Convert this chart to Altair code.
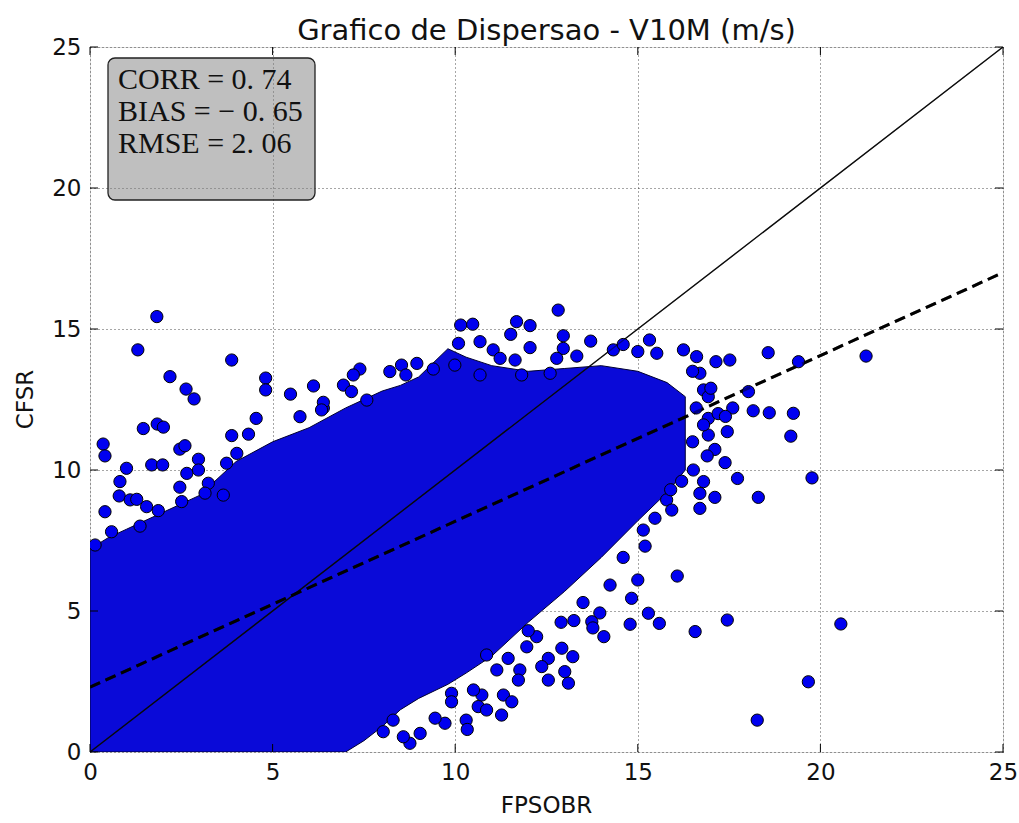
import altair as alt
import pandas as pd

# ---- data ----
# dense core of the scatter cloud (envelope read per x column)
core_x = [0, 0.5, 1, 2, 3, 4, 5, 6, 7, 7.5, 8, 8.5, 9, 9.8, 10.3, 11, 12, 13, 14, 15, 15.8, 16.3]
core_hi = [7.2, 7.6, 7.9, 8.5, 9.1, 10.3, 11.0, 11.5, 12.2, 12.5, 12.8, 13.0, 13.3, 14.3, 14.0, 13.7, 13.5, 13.6, 13.7, 13.5, 13.1, 12.6]
core_lo = [0, 0, 0, 0, 0, 0, 0, 0, 0, 0.4, 0.9, 1.5, 1.9, 2.4, 2.8, 3.4, 4.6, 5.7, 6.9, 8.2, 9.2, 10.0]

# individual points around the cloud
pts_x = [1.83, 1.31, 3.88, 2.19, 2.63, 2.85, 4.81, 4.81, 5.49, 6.12, 6.39, 5.75, 1.46, 1.84, 2.01, 0.36, 0.41, 2.46, 2.6, 3.88,
         4.34, 4.55, 1.0, 1.69, 1.99, 0.82, 0.8, 1.1, 1.28, 1.55, 1.87, 0.41, 2.46, 2.51, 2.97, 2.97, 2.65, 3.24, 3.74, 4.02,
         1.37, 0.59, 3.15, 3.65, 0.14,
         12.82, 10.15, 10.48, 11.68, 11.52, 12.05, 12.96, 13.71, 12.05, 11.64, 12.96, 13.33, 14.33, 7.39, 7.21, 6.94, 7.16,
         6.39, 6.34, 8.21, 8.53, 8.95, 9.4, 8.65, 7.58, 10.68, 11.04, 11.23, 10.68, 9.99, 10.09, 12.6, 12.78, 11.82,
         15.32, 15.52, 16.25, 16.61, 17.14, 17.52, 18.57, 19.4, 16.7, 16.8, 16.93, 18.03, 18.16, 18.6, 19.26, 19.19, 17.45,
         16.93, 17.11, 17.39, 17.73, 18.3, 17.11, 16.7, 16.7, 15.79, 15.47, 16.8, 16.52, 16.93, 19.77, 21.25, 17.6,
         14.6, 15.0, 16.6, 16.8, 16.5, 16.9, 17.2, 16.2, 15.9, 17.4, 17.0, 16.5,
         15.93, 15.15, 16.08, 15.0, 14.24, 14.83, 15.29, 15.59, 14.79, 17.45, 16.57, 14.07, 20.56, 19.67, 18.27, 13.96,
         13.25, 13.74, 12.92, 13.22, 12.55, 12.37, 13.0, 13.1, 12.55, 11.77, 11.73, 11.45, 11.32, 11.55, 11.27, 10.73,
         10.63, 10.86, 10.5, 9.9, 9.9, 9.72, 10.3, 10.33, 9.45, 8.76, 8.58, 9.04, 8.3, 8.03, 10.86, 11.14, 11.96, 12.23,
         13.77, 13.5, 12.9, 14.6, 15.2, 12.0]
pts_y = [15.44, 14.26, 13.9, 13.31, 12.87, 12.52, 13.26, 12.84, 12.69, 12.98, 12.2, 11.89, 11.47, 11.63, 11.52, 10.92, 10.5,
         10.74, 10.86, 11.22, 11.27, 11.83, 10.06, 10.18, 10.18, 9.59, 9.08, 8.94, 8.96, 8.7, 8.56, 8.52, 9.39, 8.88, 10.38,
         10.0, 9.88, 9.53, 10.24, 10.59, 8.01, 7.81, 9.18, 9.11, 7.34,
         15.67, 15.14, 15.17, 15.26, 14.81, 15.12, 14.76, 14.57, 14.34, 13.9, 14.31, 14.04, 14.26, 13.58, 13.37, 13.01, 12.78,
         12.4, 12.13, 13.49, 13.72, 13.78, 13.58, 13.37, 12.48, 14.55, 14.26, 13.96, 13.37, 13.72, 14.49, 13.43, 13.96, 13.37,
         14.61, 14.14, 14.26, 14.02, 13.84, 13.9, 14.16, 13.84, 13.43, 12.84, 12.6, 12.78, 12.1, 12.03, 12.01, 11.2, 11.36,
         11.24, 10.73, 10.26, 9.7, 9.03, 9.03, 9.17, 8.64, 8.94, 8.29, 9.59, 10.0, 11.83, 9.72, 14.04, 12.2,
         14.45, 14.2, 12.2, 11.6, 11.0, 10.5, 12.0, 9.6, 9.3, 11.9, 12.9, 13.5,
         8.58, 7.87, 6.24, 6.1, 5.92, 5.45, 4.92, 4.56, 4.53, 4.68, 4.27, 4.09, 4.54, 2.49, 1.13, 4.93,
         4.66, 4.62, 3.68, 3.38, 3.32, 3.03, 2.85, 2.44, 2.55, 2.91, 2.55, 3.32, 2.02, 1.78, 1.31, 2.02,
         1.61, 1.49, 2.2, 2.08, 1.78, 1.02, 1.13, 0.8, 1.2, 0.31, 0.54, 0.66, 1.13, 0.72, 3.44, 2.91, 3.73, 4.09,
         4.4, 5.3, 4.6, 6.9, 7.3, 4.3]

ident_x = [0, 25]
ident_y = [0, 25]
fit_x = [0, 25]
fit_y = [2.3, 17.0]
tick_values = [0, 5, 10, 15, 20, 25]
stats_lines = ["CORR = 0. 74", "BIAS =  − 0. 65", "RMSE = 2. 06"]

title_text = "Grafico de Dispersao - V10M (m/s)"
x_title = "FPSOBR"
y_title = "CFSR"

# ---- layout ----
W, H = 913, 705
FONT = "DejaVu Sans"
SERIF = "Liberation Serif"

core_df = pd.DataFrame({"x": core_x, "hi": core_hi, "lo": core_lo})
pts_df = pd.DataFrame({"x": pts_x, "y": pts_y})
ident_df = pd.DataFrame({"x": ident_x, "y": ident_y})
fit_df = pd.DataFrame({"x": fit_x, "y": fit_y})
tick_df = pd.DataFrame({"t": tick_values})
one_df = pd.DataFrame({"a": [0]})

xscale = alt.Scale(domain=[0, 25], nice=False, zero=False)
yscale = alt.Scale(domain=[0, 25], nice=False, zero=False)

xaxis = alt.Axis(values=tick_values, grid=True, gridColor="#000", gridDash=[1, 3], gridWidth=1, gridOpacity=0.7,
                 ticks=False, domain=False, labelFont=FONT, labelFontSize=23, labelColor="#111",
                 labelPadding=9, labelFlush=False, labelOverlap=False,
                 title=x_title, titleFont=FONT, titleFontSize=23, titleFontWeight="normal", titleColor="#111",
                 titleX=456, titleY=53, titleBaseline="middle", titleAlign="center")
yaxis = alt.Axis(values=tick_values, grid=True, gridColor="#000", gridDash=[1, 3], gridWidth=1, gridOpacity=0.7,
                 ticks=False, domain=False, labelFont=FONT, labelFontSize=23, labelColor="#111",
                 labelPadding=9, labelFlush=False, labelOverlap=False,
                 title=y_title, titleFont=FONT, titleFontSize=23, titleFontWeight="normal", titleColor="#111",
                 titleX=-65, titleY=352, titleAngle=-90, titleBaseline="middle", titleAlign="center")

core = alt.Chart(core_df).mark_area(color="#0a0ad8", stroke="#000030", strokeWidth=1, clip=True, opacity=1).encode(
    x=alt.X("x:Q", scale=xscale, axis=xaxis),
    y=alt.Y("hi:Q", scale=yscale, axis=yaxis),
    y2="lo:Q",
)

pts = alt.Chart(pts_df).mark_circle(size=150, fill="#0000f0", stroke="#000", strokeWidth=1, opacity=1,
                                    fillOpacity=1, clip=True).encode(
    x=alt.X("x:Q", scale=xscale), y=alt.Y("y:Q", scale=yscale))

ident_under = alt.Chart(ident_df).mark_line(color="#111", strokeWidth=1.3, clip=True).encode(
    x=alt.X("x:Q", scale=xscale), y=alt.Y("y:Q", scale=yscale))
fit_under = alt.Chart(fit_df).mark_line(color="#000", strokeWidth=3, strokeDash=[11, 6], clip=True).encode(
    x=alt.X("x:Q", scale=xscale), y=alt.Y("y:Q", scale=yscale))
ident_over = ident_under.mark_line(color="#000", strokeWidth=1.3, clip=True, opacity=0.45)
fit_over = fit_under.mark_line(color="#000", strokeWidth=3, strokeDash=[11, 6], clip=True, opacity=0.45)

tick_len = 8
tb = alt.Chart(tick_df).mark_rule(color="#000", strokeWidth=1).encode(
    x=alt.X("t:Q", scale=xscale), y=alt.value(H), y2=alt.value(H - tick_len))
tt = alt.Chart(tick_df).mark_rule(color="#000", strokeWidth=1).encode(
    x=alt.X("t:Q", scale=xscale), y=alt.value(0), y2=alt.value(tick_len))
tl = alt.Chart(tick_df).mark_rule(color="#000", strokeWidth=1).encode(
    y=alt.Y("t:Q", scale=yscale), x=alt.value(0), x2=alt.value(tick_len))
tr = alt.Chart(tick_df).mark_rule(color="#000", strokeWidth=1).encode(
    y=alt.Y("t:Q", scale=yscale), x=alt.value(W), x2=alt.value(W - tick_len))

box = alt.Chart(one_df).mark_rect(cornerRadius=7, fill="#808080", fillOpacity=0.5, stroke="#222",
                                  strokeWidth=1.3).encode(
    x=alt.value(18), x2=alt.value(225), y=alt.value(11), y2=alt.value(153))

stat_layers = []
for i, line in enumerate(stats_lines):
    stat_layers.append(
        alt.Chart(one_df).mark_text(font=SERIF, fontSize=30, align="left", baseline="alphabetic",
                                    color="#111", text=line).encode(
            x=alt.value(28), y=alt.value(42 + 32 * i))
    )

chart = alt.layer(core, ident_under, fit_under, pts, ident_over, fit_over, tb, tt, tl, tr, box,
                  *stat_layers).properties(
    width=W, height=H,
    title=alt.TitleParams(title_text, font=FONT, fontSize=29, fontWeight="normal", color="#111", anchor="middle",
                          frame="group", offset=7, dy=17),
    padding={"left": 90, "top": 47, "right": 16, "bottom": 71},
    autosize="none",
).configure_view(stroke="#000", strokeWidth=1.5).configure(background="white")

chart.save("out.html", embed_options={"renderer": "svg", "actions": False})
